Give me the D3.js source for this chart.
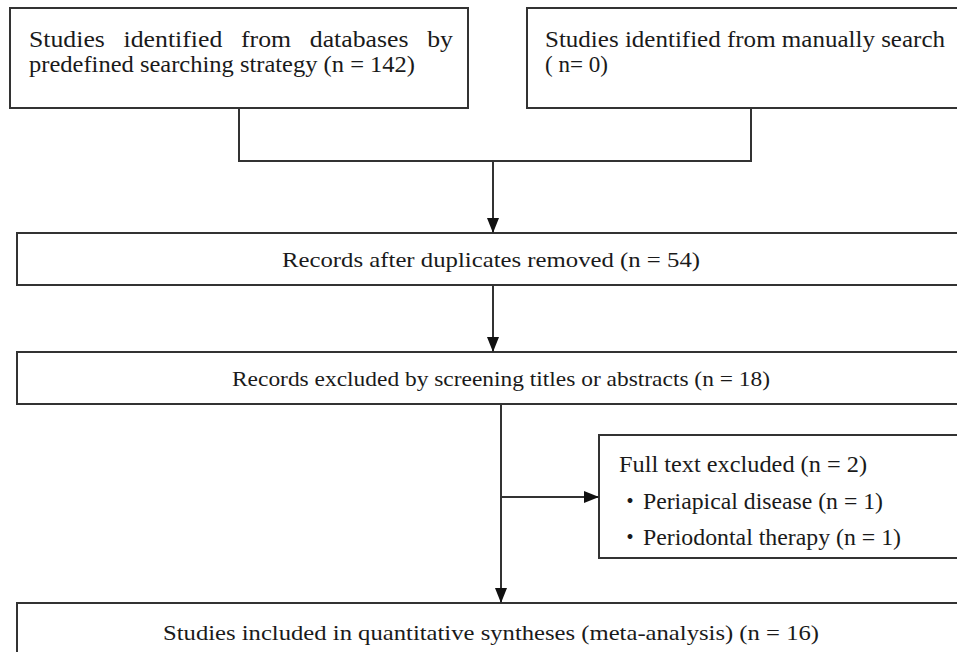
<!DOCTYPE html>
<html>
<head>
<meta charset="utf-8">
<script src="https://cdn.jsdelivr.net/npm/d3@7"></script>
<style>
  html, body { margin: 0; padding: 0; background: #fff; }
  svg { display: block; }
  text { font-family: "Liberation Serif", "Times New Roman", Tinos, Times, serif; }
</style>
</head>
<body>
<script>
// flow stages and their counts
const stageIds = ['db', 'manual', 'dedup', 'screen', 'fulltext', 'included'];
const stageCounts = [142, 0, 54, 18, 2, 16];
const exclusionReasons = ['Periapical disease', 'Periodontal therapy'];
const exclusionCounts = [1, 1];

const count = id => stageCounts[stageIds.indexOf(id)];

const stageLines = {
  db: ['Studies identified from databases by', `predefined searching strategy (n = ${count('db')})`],
  manual: ['Studies identified from manually search', `( n= ${count('manual')})`],
  dedup: [`Records after duplicates removed (n = ${count('dedup')})`],
  screen: [`Records excluded by screening titles or abstracts (n = ${count('screen')})`],
  fulltext: [`Full text excluded (n = ${count('fulltext')})`]
    .concat(exclusionReasons.map((r, i) => `${r} (n = ${exclusionCounts[i]})`)),
  included: [`Studies included in quantitative syntheses (meta-analysis) (n = ${count('included')})`]
};

const width = 957;
const height = 652;

// layout (pixels)
const boxes = {
  db:       { x0: 10,  y0: 8,   x1: 468, y1: 108 },
  manual:   { x0: 527, y0: 8,   x1: 975, y1: 108 },
  dedup:    { x0: 17,  y0: 233, x1: 975, y1: 285 },
  screen:   { x0: 17,  y0: 352, x1: 975, y1: 404 },
  fulltext: { x0: 599, y0: 435, x1: 975, y1: 558 },
  included: { x0: 17,  y0: 603, x1: 975, y1: 690 }
};

const textSpec = {
  db:       { x: 29, ys: [47, 72], lens: [424, 386], justify: [true, false], anchor: 'start', size: 23 },
  manual:   { x: 545, ys: [47, 72], lens: [400, 63], justify: [false, false], anchor: 'start', size: 23 },
  dedup:    { x: 491, ys: [267], lens: [418], anchor: 'middle', size: 22 },
  screen:   { x: 501, ys: [386], lens: [538], anchor: 'middle', size: 22 },
  fulltext: { x: 619, ys: [472, 509, 545], lens: [248, 240, 258], anchor: 'start', size: 23 },
  included: { x: 491, ys: [640], lens: [656], anchor: 'middle', size: 22 }
};

const svg = d3.select('body').append('svg')
  .attr('width', width)
  .attr('height', height)
  .style('background-color', 'white');

svg.append('defs').append('marker')
  .attr('id', 'arrow')
  .attr('viewBox', '0 0 15 12')
  .attr('refX', 15)
  .attr('refY', 6)
  .attr('markerWidth', 15)
  .attr('markerHeight', 12)
  .attr('markerUnits', 'userSpaceOnUse')
  .attr('orient', 'auto')
  .append('path')
  .attr('d', 'M0,0L15,6L0,12Z')
  .attr('fill', '#111');

const stroke = '#333';

svg.append('g')
  .selectAll('rect')
  .data(stageIds)
  .join('rect')
  .attr('x', d => boxes[d].x0)
  .attr('y', d => boxes[d].y0)
  .attr('width', d => boxes[d].x1 - boxes[d].x0)
  .attr('height', d => boxes[d].y1 - boxes[d].y0)
  .attr('fill', 'white')
  .attr('stroke', stroke)
  .attr('stroke-width', 2);

// connectors
const cx = d => (boxes[d].x0 + boxes[d].x1) / 2;
const joinY = 161;
const mainX = 493;
const lowerX = 501;
const branchY = 497;

const plain = [
  [[cx('db'), boxes.db.y1], [cx('db'), joinY], [cx('manual'), joinY], [cx('manual'), boxes.manual.y1]]
];
const arrows = [
  [[mainX, joinY], [mainX, boxes.dedup.y0]],
  [[mainX, boxes.dedup.y1], [mainX, boxes.screen.y0]],
  [[lowerX, boxes.screen.y1], [lowerX, boxes.included.y0]],
  [[lowerX, branchY], [boxes.fulltext.x0, branchY]]
];

const line = d3.line();

svg.append('g')
  .selectAll('path')
  .data(plain)
  .join('path')
  .attr('d', line)
  .attr('fill', 'none')
  .attr('stroke', stroke)
  .attr('stroke-width', 2);

svg.append('g')
  .selectAll('path')
  .data(arrows)
  .join('path')
  .attr('d', line)
  .attr('fill', 'none')
  .attr('stroke', stroke)
  .attr('stroke-width', 2)
  .attr('marker-end', 'url(#arrow)');

// labels
const labels = svg.append('g').attr('fill', '#1a1a1a');

stageIds.forEach(id => {
  const spec = textSpec[id];
  stageLines[id].forEach((txt, i) => {
    const bullet = id === 'fulltext' && i > 0;
    const x = bullet ? spec.x + 24 : spec.x;
    if (spec.justify && spec.justify[i]) {
      // justified line: words spread across the full width (wider face in the original)
      const words = txt.split(' ');
      const ws = words.map(w => {
        const t = labels.append('text').attr('y', spec.ys[i]).style('font-size', spec.size + 'px').text(w);
        const w0 = t.node().getComputedTextLength() * 1.12;
        t.attr('textLength', w0).attr('lengthAdjust', 'spacingAndGlyphs');
        return { node: t, w: w0 };
      });
      const gap = (spec.lens[i] - d3.sum(ws, d => d.w)) / (words.length - 1);
      let cur = x;
      ws.forEach(d => { d.node.attr('x', cur); cur += d.w + gap; });
      return;
    }
    labels.append('text')
      .attr('x', x)
      .attr('y', spec.ys[i])
      .attr('text-anchor', spec.anchor)
      .attr('textLength', spec.lens[i])
      .attr('lengthAdjust', 'spacingAndGlyphs')
      .style('font-size', spec.size + 'px')
      .text(txt);
    if (bullet) {
      labels.append('text')
        .attr('x', spec.x + 11)
        .attr('y', spec.ys[i])
        .attr('text-anchor', 'middle')
        .style('font-size', spec.size + 'px')
        .style('font-family', '"Noto Sans CJK JP", sans-serif')
        .text('\u30FB');
    }
  });
});
</script>
</body>
</html>
